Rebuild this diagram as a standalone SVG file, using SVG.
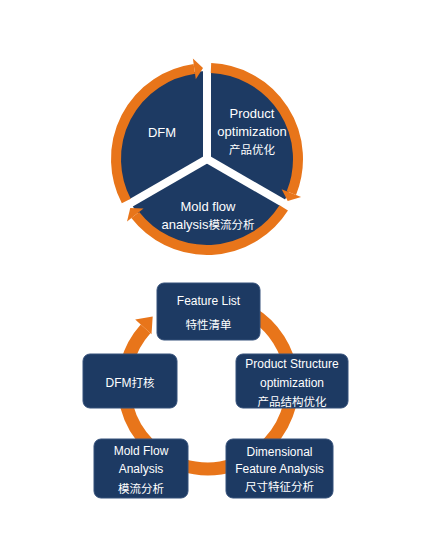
<svg xmlns="http://www.w3.org/2000/svg" width="424" height="553" viewBox="0 0 424 553">
<style>
.navy{fill:#1D3A63}
.box{fill:#1D3A63;stroke:#34507a;stroke-width:1}
.band{fill:none;stroke:#E8751A;stroke-width:10;stroke-linecap:butt}
.ring{fill:none;stroke:#E8751A;stroke-width:13;stroke-linecap:butt}
.head{fill:#E8751A}
.div{stroke:#ffffff;stroke-width:8;stroke-linecap:butt}
text{font-family:"Liberation Sans","Noto Sans CJK SC",sans-serif;fill:#ffffff;text-anchor:middle}
.t13{font-size:13px}
.t12{font-size:12px}
.cjk{font-family:"Noto Sans CJK SC",sans-serif;font-size:11.5px}
</style>
<rect width="424" height="553" fill="#ffffff"/>

<g id="cycle-top">
  <circle class="navy" cx="207" cy="159" r="88"/>
  <line class="div" x1="207" y1="159" x2="207" y2="54"/>
  <line class="div" x1="207" y1="159" x2="297.93" y2="211.5"/>
  <line class="div" x1="207" y1="159" x2="116.07" y2="211.5"/>
</g>

<g id="connectors">
  <path class="band" d="M126.28 201.01 A91 91 0 0 1 194.33 68.88"/>
  <polygon class="head" points="192.87,58.49 195.79,79.28 203.03,68.09"/>
  <path class="band" d="M210.97 68.09 A91 91 0 0 1 291.37 193.09"/>
  <polygon class="head" points="301.11,197.02 281.64,189.16 287.72,201.01"/>
  <path class="band" d="M283.75 207.89 A91 91 0 0 1 135.29 215.03"/>
  <polygon class="head" points="127.02,221.49 143.57,208.56 130.25,207.89"/>

  <path class="ring" d="M166 312.25 A84 84 0 1 1 145.58 328.79"/>
  <polygon class="head" points="135.2,319.4 151.5,334.2 152.7,316.4"/>
</g>

<g id="node-dfm">
  <text class="t13" x="162" y="137">DFM</text>
</g>
<g id="node-product-opt">
  <text class="t13" x="252" y="118">Product</text>
  <text class="t13" x="252" y="136">optimization</text>
  <text class="cjk" x="252" y="154">产品优化</text>
</g>
<g id="node-moldflow-top">
  <text class="t13" x="208" y="211">Mold flow</text>
  <text class="t13" x="208" y="229">analysis<tspan class="cjk">模流分析</tspan></text>
</g>

<g id="node-feature-list">
  <rect class="box" x="157" y="283" width="103" height="57" rx="7"/>
  <text class="t12" x="208.5" y="305">Feature List</text>
  <text class="cjk" x="208.5" y="329">特性清单</text>
</g>
<g id="node-dfm-check">
  <rect class="box" x="83" y="354" width="94" height="54" rx="7"/>
  <text class="t12" x="130" y="387">DFM<tspan class="cjk">打核</tspan></text>
</g>
<g id="node-product-structure">
  <rect class="box" x="236" y="354" width="112" height="54" rx="7"/>
  <text class="t12" x="292" y="368">Product Structure</text>
  <text class="t12" x="292" y="387">optimization</text>
  <text class="cjk" x="292" y="406">产品结构优化</text>
</g>
<g id="node-mold-flow">
  <rect class="box" x="94" y="439" width="94" height="59" rx="7"/>
  <text class="t12" x="141" y="455">Mold Flow</text>
  <text class="t12" x="141" y="473">Analysis</text>
  <text class="cjk" x="141" y="493">模流分析</text>
</g>
<g id="node-dimensional">
  <rect class="box" x="226" y="439" width="107" height="59" rx="7"/>
  <text class="t12" x="279.5" y="456">Dimensional</text>
  <text class="t12" x="279.5" y="473">Feature Analysis</text>
  <text class="cjk" x="279.5" y="491">尺寸特征分析</text>
</g>
</svg>
